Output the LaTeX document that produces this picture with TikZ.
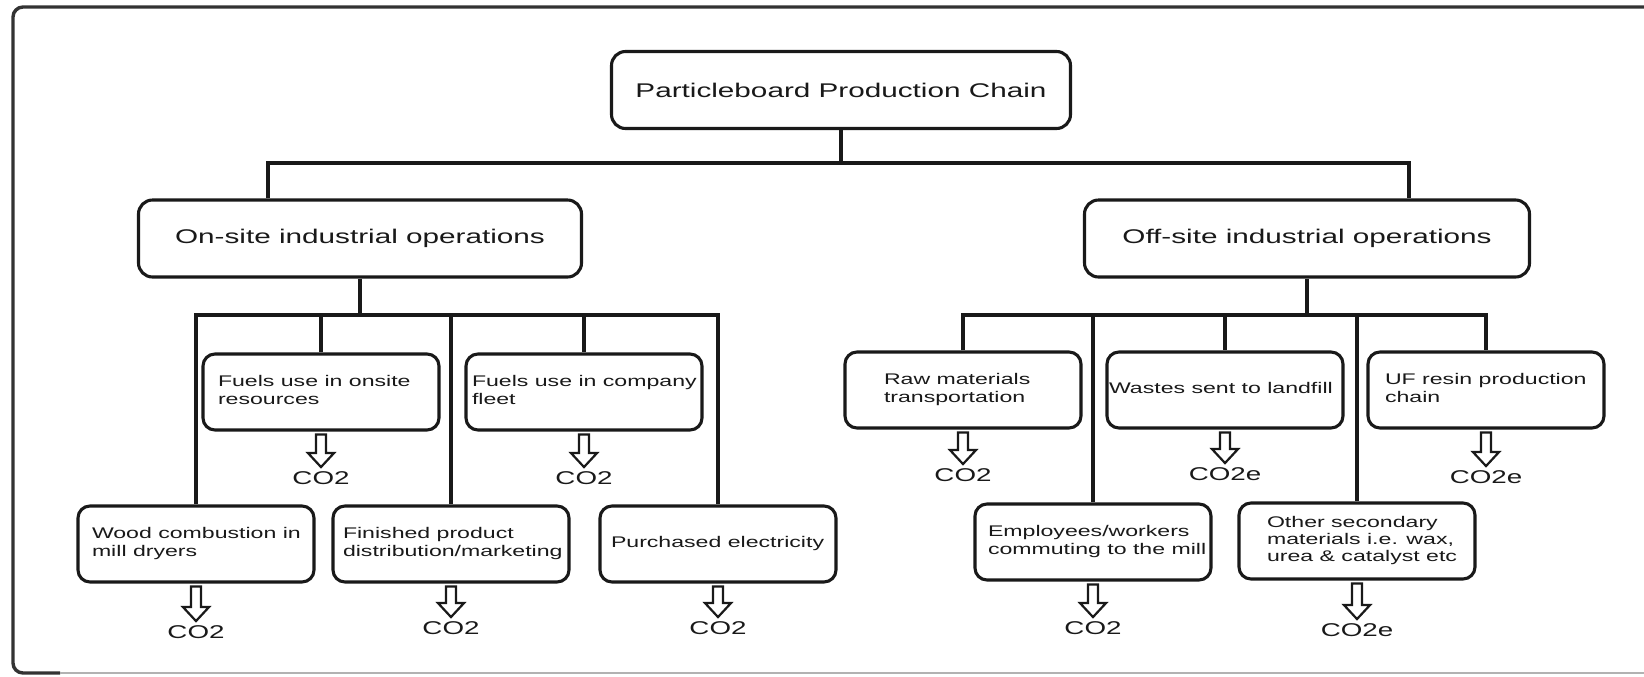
\documentclass[tikz,border=0pt]{standalone}
\usepackage{fontspec}
\setmainfont{Liberation Sans}[FakeStretch=1.5]
\usetikzlibrary{calc}

% left-aligned text block of fixed width inside a leaf box
\newcommand\lefttext[2]{\makebox[118pt][l]{\hspace*{#1}\begin{tabular}{@{}l@{}}#2\end{tabular}}}

% hollow block arrow from a box down to its emission label
\newcommand\emission[2]{%
  \draw[emit] ($(#1.south)+(-5,3)$) -- ($(#2.north)+(-5,-18)$)
    -- ($(#2.north)+(-13,-18)$) -- ($(#2.north)+(0,-4)$)
    -- ($(#2.north)+(13,-18)$) -- ($(#2.north)+(5,-18)$)
    -- ($(#1.south)+(5,3)$) -- cycle;}

\begin{document}
\begin{tikzpicture}[x=0.5pt, y=-0.5pt,
  conn/.style={draw=black!90, line width=1.55pt},
  mainbox/.style={draw=black!90, text=black!90, line width=1.55pt, rounded corners=7pt,
    minimum height=38.5pt, inner sep=0pt, font=\fontsize{9.9}{11}\selectfont},
  leaf/.style={draw=black!90, text=black!90, line width=1.55pt, rounded corners=6pt,
    minimum width=118pt, minimum height=38pt, inner sep=0pt,
    font=\fontsize{7.7}{8.7}\selectfont},
  gas/.style={inner sep=0pt, text=black!90, font=\fontsize{9.25}{10}\selectfont},
  emit/.style={draw=black!90, line width=1.1pt, fill=white, line join=miter},
]
\useasboundingbox (0,0) rectangle (1644,676);
\fill[white] (0,0) rectangle (1644,676);

% outer frame
\draw[line width=1.7pt, draw=black!80, rounded corners=5pt]
  (1660,7) -- (13,7) -- (13,673) -- (60,673);
\draw[line width=1.4pt, draw=black!30] (60,673) -- (1660,673);

% top levels
\node[mainbox, minimum width=229.5pt] (root) at (841,90) {Particleboard Production Chain};
\node[mainbox, minimum width=221.5pt] (onsite) at (360,238.5) {On-site industrial operations};
\node[mainbox, minimum width=222.5pt] (offsite) at (1307,238.5) {Off-site industrial operations};

% on-site sources
\node[leaf] (fuelsite) at (321,392) {\lefttext{7.5pt}{Fuels use in onsite\\resources}};
\node[leaf] (fleet) at (584,392) {\lefttext{3pt}{Fuels use in company\\fleet}};
\node[leaf] (wood) at (196,544) {\lefttext{7pt}{Wood combustion in\\mill dryers}};
\node[leaf] (finished) at (451,544) {\lefttext{5pt}{Finished product\\distribution/marketing}};
\node[leaf] (elec) at (718,544) {\lefttext{5.5pt}{Purchased electricity}};

% off-site sources
\node[leaf] (raw) at (963,390) {\lefttext{19.5pt}{Raw materials\\transportation}};
\node[leaf] (waste) at (1225,390) {\lefttext{1pt}{Wastes sent to landfill}};
\node[leaf] (resin) at (1486,390) {\lefttext{8.5pt}{UF resin production\\chain}};
\node[leaf] (commute) at (1093,542) {\lefttext{6.5pt}{Employees/workers\\commuting to the mill}};
\node[leaf] (other) at (1357,541) {\lefttext{14pt}{Other secondary\\materials i.e. wax,\\urea \& catalyst etc}};

% emission labels
\node[gas] (g-fuelsite) at (321,478) {CO2};
\node[gas] (g-fleet) at (584,478) {CO2};
\node[gas] (g-wood) at (196,632) {CO2};
\node[gas] (g-finished) at (451,628) {CO2};
\node[gas] (g-elec) at (718,628) {CO2};
\node[gas] (g-raw) at (963,475) {CO2};
\node[gas] (g-waste) at (1225,474) {CO2e};
\node[gas] (g-resin) at (1486,477) {CO2e};
\node[gas] (g-commute) at (1093,628) {CO2};
\node[gas] (g-other) at (1357,630) {CO2e};

% tree connectors
\coordinate (busL) at (268,163);
\coordinate (busR) at (1409,163);
\draw[conn] (root.south) -- (root.south |- busL);
\draw[conn] (busL |- onsite.north) -- (busL) -- (busR) -- (busR |- offsite.north);

\coordinate (onbus) at (0,315);
\draw[conn] (onsite.south) -- (onsite.south |- onbus);
\draw[conn] (wood.north) -- (wood.north |- onbus) -- (elec.north |- onbus) -- (elec.north);
\foreach \n in {fuelsite,finished,fleet}
  \draw[conn] (\n.north |- onbus) -- (\n.north);

\coordinate (offbus) at (0,315);
\draw[conn] (offsite.south) -- (offsite.south |- offbus);
\draw[conn] (raw.north) -- (raw.north |- offbus) -- (resin.north |- offbus) -- (resin.north);
\foreach \n in {commute,waste,other}
  \draw[conn] (\n.north |- offbus) -- (\n.north);

% emission arrows
\foreach \n in {fuelsite,fleet,wood,finished,elec,raw,waste,resin,commute,other}
  \emission{\n}{g-\n};
\end{tikzpicture}
\end{document}
